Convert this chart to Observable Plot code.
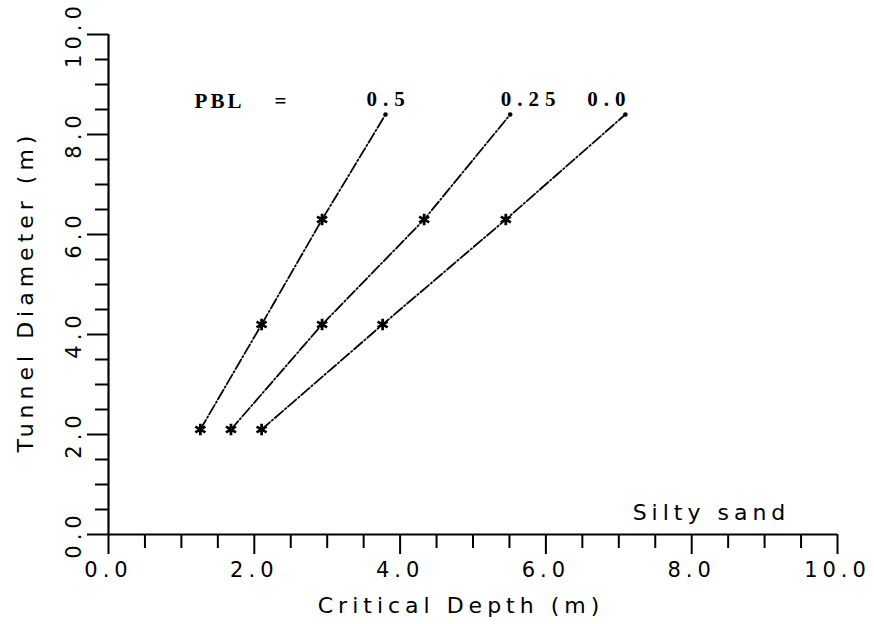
<!DOCTYPE html>
<html><head><meta charset="utf-8">
<script src="https://cdn.jsdelivr.net/npm/d3@7"></script>
<script src="https://cdn.jsdelivr.net/npm/@observablehq/plot@0.6"></script>
<style>
body{margin:0;background:#fff;}
#chart svg{display:block;}
</style></head><body><div id="chart"></div>
<script>
// Tunnel diameters (m) – common to every series
const diameters = [2.1, 4.2, 6.3, 8.4];
// PBL series names
const pblValues = ["0.5", "0.25", "0.0"];
// Critical depth (m) read for each PBL series
const depthPbl050 = [1.26, 2.10, 2.93, 3.80];
const depthPbl025 = [1.68, 2.93, 4.33, 5.51];
const depthPbl000 = [2.10, 3.76, 5.45, 7.09];
// Axis ticks
const majorTicks = [0, 2, 4, 6, 8, 10];
const minorTicks = [0.5, 1, 1.5, 2.5, 3, 3.5, 4.5, 5, 5.5, 6.5, 7, 7.5, 8.5, 9, 9.5];
const xTitle = "Critical Depth (m)";
const yTitle = "Tunnel Diameter (m)";
const soilLabel = "Silty sand";
const legendTitle = "PBL";

const depthSeries = [depthPbl050, depthPbl025, depthPbl000];
const rows = pblValues.flatMap((p, i) =>
  diameters.map((d, j) => ({pbl: p, depth: depthSeries[i][j], diameter: d, top: j === diameters.length - 1}))
);
const markers = rows.filter(d => !d.top);
const tops = rows.filter(d => d.top);
const fmt = d => d.toFixed(1);
const labelDx = [3, 21, -16];
const serif = "Liberation Serif";

const chart = Plot.plot({
  width: 874, height: 624,
  marginLeft: 108, marginRight: 37, marginTop: 34, marginBottom: 90,
  x: {domain: [0, 10]},
  y: {domain: [0, 10]},
  style: {fontFamily: "DejaVu Sans", fontSize: "21px", color: "#000", background: "#fff", letterSpacing: "5px"},
  marks: [
    // minor ticks
    Plot.axisX({ticks: minorTicks, tickSize: 14, strokeWidth: 2, tickFormat: () => "", label: null}),
    Plot.axisY({ticks: minorTicks, tickSize: 13, strokeWidth: 2, tickFormat: () => "", label: null}),
    // major ticks + labels
    Plot.axisX({ticks: majorTicks, tickSize: 20, strokeWidth: 2, tickPadding: 8, tickFormat: fmt, fontSize: 21, label: null}),
    Plot.axisY({ticks: majorTicks, tickSize: 21, strokeWidth: 2, tickFormat: () => "", label: null}),
    Plot.text(majorTicks, {y: d => d, text: fmt, frameAnchor: "left", dx: -28, dy: 0, rotate: -90,
      textAnchor: "middle", lineAnchor: "bottom", fontSize: 21}),
    // axis lines
    Plot.ruleY([0], {strokeWidth: 2.2}),
    Plot.ruleX([0], {strokeWidth: 2.2}),
    // titles
    Plot.text([xTitle], {frameAnchor: "bottom", textAnchor: "middle", dx: -12, dy: 71, lineAnchor: "middle", fontSize: 22}),
    Plot.text([yTitle], {frameAnchor: "left", textAnchor: "middle", dx: -83, dy: 7, rotate: -90, lineAnchor: "middle", fontSize: 22}),
    Plot.text([soilLabel], {frameAnchor: "bottom-right", textAnchor: "middle", dx: -126, dy: -22, lineAnchor: "middle", fontSize: 22}),
    // series
    Plot.line(rows, {x: "depth", y: "diameter", z: "pbl", stroke: "#000", strokeWidth: 1.8, strokeDasharray: "11,2.5,1.5,2.5"}),
    Plot.dot(markers, {x: "depth", y: "diameter", symbol: "asterisk", r: 5.5, stroke: "#000", strokeWidth: 2.8}),
    Plot.dot(markers, {x: "depth", y: "diameter", r: 2.8, fill: "#000"}),
    Plot.dot(tops, {x: "depth", y: "diameter", r: 2.3, fill: "#000"}),
    // PBL labels
    Plot.text([legendTitle], {frameAnchor: "top-left", textAnchor: "middle", dx: 111, dy: 67, lineAnchor: "middle", fontFamily: serif, fontWeight: "bold", fontSize: 21}),
    Plot.text(["="], {frameAnchor: "top-left", textAnchor: "middle", dx: 175, dy: 67, lineAnchor: "middle", fontFamily: serif, fontWeight: "bold", fontSize: 21}),
    ...pblValues.map((p, i) => Plot.text(tops.filter(d => d.pbl === p), {
      x: "depth", y: "diameter", text: "pbl", dx: labelDx[i], dy: -9, lineAnchor: "bottom",
      fontFamily: serif, fontWeight: "bold", fontSize: 21
    }))
  ]
});
const svg = d3.select(chart);
svg.selectAll('g[font-family="Liberation Serif"]').attr("letter-spacing", "6px");
svg.selectAll('g[font-family="Liberation Serif"]').filter(function() {
  return d3.select(this).text() === legendTitle;
}).attr("letter-spacing", "3px");
document.getElementById("chart").appendChild(chart);
</script></body></html>
